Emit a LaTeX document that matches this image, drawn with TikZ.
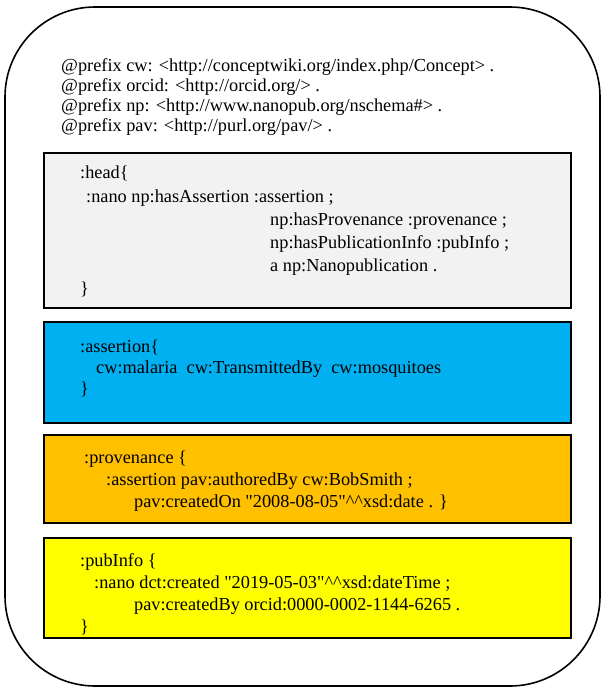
\documentclass[tikz,border=0pt]{standalone}
\usepackage{fontspec}
\setmainfont{Liberation Serif}
\usepackage[HTML]{xcolor}
\usetikzlibrary{positioning}

\definecolor{headgray}{HTML}{F2F2F2}
\definecolor{assertblue}{HTML}{00B0F0}
\definecolor{provorange}{HTML}{FFC000}
\definecolor{pubyellow}{HTML}{FFFF00}
\newcommand{\dtype}{\textasciicircum\textasciicircum}
\newcommand{\qq}{\textquotedbl}

\begin{document}
\begin{tikzpicture}[x=1pt, y=-1pt,
  panel/.style={draw, line width=1.6pt, anchor=north west, inner sep=0pt, minimum width=527pt},
  code/.style={anchor=north west, align=left, inner sep=0pt}]
\useasboundingbox (0,0) rectangle (602,688);
% outer frame of the nanopublication
\draw[line width=1.6pt, rounded corners=90pt] (5,7) rectangle (600,686);

% prefix declarations
\node[code, font=\fontsize{18.3}{20.3}\selectfont] (prefixes) at (61,58)
  {@prefix cw: <http://conceptwiki.org/index.php/Concept> .\\
   @prefix orcid: <http://orcid.org/> .\\
   @prefix np: <http://www.nanopub.org/nschema\#> .\\
   @prefix pav: <http://purl.org/pav/> .};

% the four graphs
\node[panel, fill=headgray, minimum height=155pt] (head) at (43,152) {};
\node[panel, fill=assertblue, minimum height=101pt] (assertion) at (43,321) {};
\node[panel, fill=provorange, minimum height=88pt] (provenance) at (43,434) {};
\node[panel, fill=pubyellow, minimum height=100pt] (pubinfo) at (43,537) {};

\node[code, font=\fontsize{18.3}{23.2}\selectfont] (headtxt) at (80,166)
  {:head\{\\
   \hspace*{6pt}:nano np:hasAssertion :assertion ;\\
   \hspace*{190pt}np:hasProvenance :provenance ;\\
   \hspace*{190pt}np:hasPublicationInfo :pubInfo ;\\
   \hspace*{190pt}a np:Nanopublication .\\
   \}};

\node[code, font=\fontsize{18.3}{21}\selectfont] (assertiontxt) at (80,340)
  {:assertion\{\\
   \hspace*{16pt}cw:malaria\ \ cw:TransmittedBy\ \ cw:mosquitoes\\
   \}};

\node[code, font=\fontsize{18.3}{22}\selectfont] (provenancetxt) at (84,451)
  {:provenance \{\\
   \hspace*{22pt}:assertion pav:authoredBy cw:BobSmith ;\\
   \hspace*{50pt}pav:createdOn \qq2008-08-05\qq\dtype xsd:date . \}};

\node[code, font=\fontsize{18.3}{22}\selectfont] (pubinfotxt) at (80,553)
  {:pubInfo \{\\
   \hspace*{14pt}:nano dct:created \qq2019-05-03\qq\dtype xsd:dateTime ;\\
   \hspace*{54pt}pav:createdBy orcid:0000-0002-1144-6265 .\\
   \}};
\end{tikzpicture}
\end{document}
